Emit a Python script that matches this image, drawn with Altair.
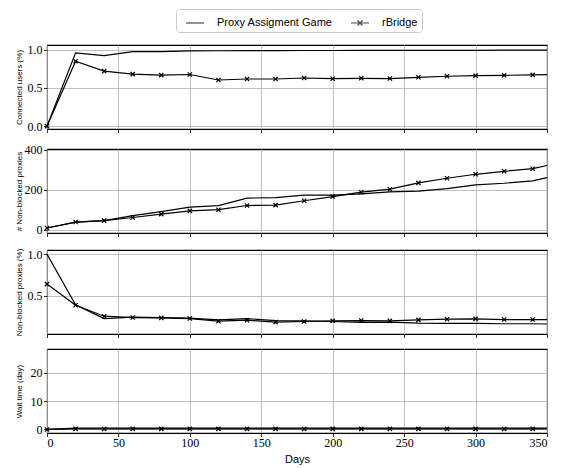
import altair as alt
import pandas as pd

days = [0, 20, 40, 60, 80, 100, 120, 140, 160, 180, 200, 220, 240, 260, 280, 300, 320, 340, 350]
series_names = ["Proxy Assigment Game", "rBridge"]

conn_pag = [0, 0.957, 0.922, 0.974, 0.974, 0.983, 0.985, 0.986, 0.987, 0.988, 0.988, 0.989, 0.989, 0.990, 0.990, 0.991, 0.992, 0.993, 0.993]
conn_rb = [0, 0.848, 0.719, 0.680, 0.667, 0.675, 0.603, 0.616, 0.616, 0.629, 0.620, 0.625, 0.622, 0.638, 0.652, 0.660, 0.664, 0.670, 0.672]

nb_pag = [8, 38, 45, 70, 90, 113, 121, 158, 161, 173, 173, 180, 190, 193, 206, 225, 233, 245, 261]
nb_rb = [8, 38, 45, 61, 78, 94, 100, 121, 123, 145, 166, 188, 203, 235, 258, 278, 293, 306, 322]

pct_pag = [1.0, 0.39, 0.226, 0.242, 0.238, 0.23, 0.21, 0.225, 0.2, 0.198, 0.19, 0.18, 0.183, 0.171, 0.167, 0.167, 0.163, 0.163, 0.16]
pct_rb = [0.64, 0.385, 0.254, 0.238, 0.234, 0.226, 0.194, 0.206, 0.183, 0.19, 0.198, 0.202, 0.198, 0.21, 0.218, 0.222, 0.214, 0.214, 0.214]

wait_pag = [0, 0.45, 0.45, 0.45, 0.45, 0.45, 0.45, 0.45, 0.45, 0.45, 0.45, 0.45, 0.45, 0.45, 0.45, 0.45, 0.45, 0.45, 0.45]
wait_rb = [0, 0.2, 0.2, 0.2, 0.2, 0.2, 0.2, 0.2, 0.2, 0.2, 0.2, 0.2, 0.2, 0.2, 0.2, 0.2, 0.2, 0.2, 0.2]

x_ticks = [0, 50, 100, 150, 200, 250, 300, 350]

XPATH = "M-1,-1L1,1M-1,1L1,-1"
LEG_LINE = "M-1,0L1,0"
LEG_LINE_X = "M-1,0L1,0M-0.28,-0.28L0.28,0.28M-0.28,0.28L0.28,-0.28"


def make_df(pag, rb):
    rows = []
    for d, v in zip(days, pag):
        rows.append({"day": d, "value": v, "series": series_names[0]})
    for d, v in zip(days, rb):
        rows.append({"day": d, "value": v, "series": series_names[1]})
    return pd.DataFrame(rows)


W, H = 500, 84


def panel(df, ydomain, yticks, ytitle, fmt, bottom=False, legend=False):
    x = alt.X(
        "day:Q",
        scale=alt.Scale(domain=[0, 350], nice=False, zero=False),
        axis=alt.Axis(
            values=x_ticks,
            labels=bottom,
            title="Days" if bottom else None,
            titleFontSize=11,
            titlePadding=5,
            labelPadding=1,
        ),
    )
    y = alt.Y(
        "value:Q",
        scale=alt.Scale(domain=ydomain, nice=False, zero=False),
        axis=alt.Axis(
            values=yticks,
            format=fmt,
            title=ytitle,
            titleX=-24,
            titleY=H / 2,
            titleBaseline="bottom",
            titleAlign="center",
            labelPadding=1.5,
        ),
    )
    line = alt.Chart(df).mark_line(color="black", strokeWidth=1.2).encode(
        x=x, y=y, detail="series:N", order="day:Q"
    )
    pts = (
        alt.Chart(df)
        .transform_filter("datum.series == 'rBridge' && datum.day <= 340")
        .mark_point(shape=XPATH, size=18, filled=False, color="black", strokeWidth=1.2, opacity=1)
        .encode(x=x, y=y)
    )
    layers = [line, pts]
    if legend:
        leg_df = pd.DataFrame({"day": [None, None], "value": [None, None], "series": series_names})
        leg = (
            alt.Chart(leg_df)
            .mark_point(filled=False, color="black", strokeWidth=1.2)
            .encode(
                x=alt.X("day:Q"),
                y=alt.Y("value:Q"),
                shape=alt.Shape(
                    "series:N",
                    scale=alt.Scale(domain=series_names, range=[LEG_LINE, LEG_LINE_X]),
                    legend=alt.Legend(
                        orient="none",
                        legendX=129,
                        legendY=-36,
                        direction="horizontal",
                        title=None,
                        strokeColor="#cccccc",
                        cornerRadius=3,
                        padding=4,
                        fillColor="white",
                        symbolSize=324,
                        symbolStrokeWidth=1.2,
                        symbolStrokeColor="black",
                        symbolOffset=5,
                        labelFont="Liberation Sans",
                        labelFontSize=11,
                        labelColor="black",
                        labelOffset=12,
                        columnPadding=12,
                    ),
                ),
            )
        )
        layers.append(leg)
    return alt.layer(*layers).properties(width=W, height=H)


p1 = panel(make_df(conn_pag, conn_rb), [-0.037, 1.06], [0.0, 0.5, 1.0], "Connected users (%)", ".1f", legend=True)
p2 = panel(make_df(nb_pag, nb_rb), [-17, 405], [0, 200, 400], "# Non-blocked proxies", "d")
p3 = panel(make_df(pct_pag, pct_rb), [0.04, 1.05], [0.5, 1.0], "Non-blocked proxies (%)", ".1f")
p4 = panel(make_df(wait_pag, wait_rb), [-1.25, 28.4], [0, 10, 20], "Wait time (day)", "d", bottom=True)

chart = (
    alt.vconcat(p1, p2, p3, p4, spacing=9)
    .properties(padding={"left": 6, "top": 0, "right": 5, "bottom": 0})
    .configure_view(stroke="black", strokeWidth=1.1)
    .configure_axis(
        grid=True,
        gridColor="#b0b0b0",
        gridWidth=0.8,
        domain=False,
        tickColor="black",
        tickSize=3.5,
        tickWidth=0.8,
        labelFont="Liberation Serif",
        labelFontSize=12,
        labelColor="black",
        titleFont="Liberation Sans",
        titleFontSize=8,
        titleFontWeight="normal",
        titleColor="black",
    )
)

chart.save("out.html", embed_options={"renderer": "svg", "actions": False})
